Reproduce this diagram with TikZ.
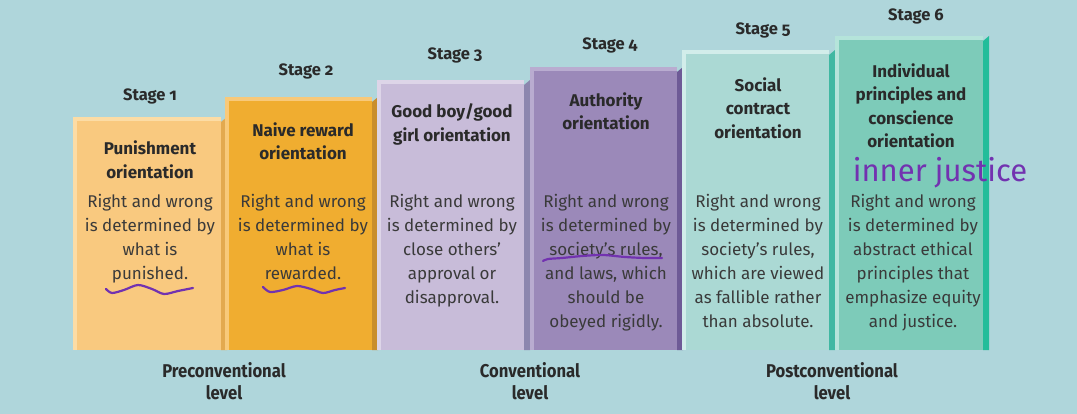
\documentclass[tikz,border=0pt]{standalone}
\usepackage{fontspec}
\setmainfont{Fira Sans}[Numbers=OldStyle]
\newfontfamily\levelfont{Fira Sans}[FakeStretch=0.9]
\definecolor{bg}{HTML}{AFD6DB}
\definecolor{fA}{HTML}{F9C97F}\definecolor{rA}{HTML}{FCDCA5}\definecolor{sA}{HTML}{E3A94F}
\definecolor{fB}{HTML}{F0AD30}\definecolor{rB}{HTML}{F8C97A}\definecolor{sB}{HTML}{C98E2E}
\definecolor{fC}{HTML}{C8BCD9}\definecolor{rC}{HTML}{DDD5E8}\definecolor{sC}{HTML}{8C86AE}
\definecolor{fD}{HTML}{9B89B9}\definecolor{rD}{HTML}{B9ACD0}\definecolor{sD}{HTML}{6E5A96}
\definecolor{fE}{HTML}{ABD9D4}\definecolor{rE}{HTML}{D2EDEA}\definecolor{sE}{HTML}{40B8A2}
\definecolor{fF}{HTML}{7DCBB9}\definecolor{rF}{HTML}{B5E4DA}\definecolor{sF}{HTML}{22BD9A}
\definecolor{txt}{HTML}{2A2A2A}
\definecolor{bodytxt}{HTML}{3A3A3A}
\definecolor{ink}{HTML}{7232B0}
\newcommand\kbox[6]{%
  \fill[#4] (#1,#2) rectangle ({#3-6},350);
  \fill[#5] ({#1+4},{#2+4}) rectangle ({#3-6},350);
  \fill[#6] ({#3-6},{#2+5}) -- (#3,#2) -- (#3,350) -- ({#3-6},350) -- cycle;
}
\tikzset{
  stagelbl/.style={font=\bfseries\fontsize{16.5}{20}\selectfont, text=txt, inner sep=0},
  title/.style={font=\bfseries\fontsize{17}{23.5}\selectfont, text=txt, align=center, inner sep=0},
  body/.style={font=\fontsize{17}{24}\selectfont, text=bodytxt, align=center, inner sep=0, anchor=north},
  levellbl/.style={font=\levelfont\bfseries\fontsize{18.5}{22}\selectfont, text=txt, align=center, inner sep=0},
  wave/.style={draw=ink, line width=2.2pt, line cap=round}
}
\begin{document}
\begin{tikzpicture}[x=1pt,y=-1pt]
\useasboundingbox (0,0) rectangle (1077,414);
\fill[bg] (0,0) rectangle (1077,414);
\kbox{73}{117}{227}{rA}{fA}{sA}
\kbox{225}{97}{378}{rB}{fB}{sB}
\kbox{377}{80}{530}{rC}{fC}{sC}
\kbox{530}{67}{683}{rD}{fD}{sD}
\kbox{682}{50}{835}{rE}{fE}{sE}
\kbox{835}{36}{989}{rF}{fF}{sF}

\node[stagelbl] (s1) at (150,96) {Stage 1};
\node[stagelbl] (s2) at (306,71) {Stage 2};
\node[stagelbl] (s3) at (455,55) {Stage 3};
\node[stagelbl] (s4) at (610,45) {Stage 4};
\node[stagelbl] (s5) at (763,30) {Stage 5};
\node[stagelbl] (s6) at (916,16) {Stage 6};

\node[title] (t1) at (150,160) {Punishment\\orientation};
\node[title] (t2) at (303,141.5) {Naive reward\\orientation};
\node[title] (t3) at (452,124.5) {Good boy/good\\girl orientation};
\node[title] (t4) at (606,111.5) {Authority\\orientation};
\node[title] (t5) at (758,108) {Social\\contract\\orientation};
\node[title] (t6) at (911,106) {Individual\\principles and\\conscience\\orientation};

\node[body] (b1) at (150,194) {Right and wrong\\is determined by\\what is\\punished.};
\node[body] (b2) at (303,194) {Right and wrong\\is determined by\\what is\\rewarded.};
\node[body] (b3) at (452,194) {Right and wrong\\is determined by\\close others’\\approval or\\disapproval.};
\node[body] (b4) at (606,194) {Right and wrong\\is determined by\\society’s rules,\\and laws, which\\should be\\obeyed rigidly.};
\node[body] (b5) at (758,194) {Right and wrong\\is determined by\\society’s rules,\\which are viewed\\as fallible rather\\than absolute.};
\node[body] (b6) at (913,194) {Right and wrong\\is determined by\\abstract ethical\\principles that\\emphasize equity\\and justice.};

\node[levellbl] (l1) at (224,381) {Preconventional\\level};
\node[levellbl] (l2) at (530,381) {Conventional\\level};
\node[levellbl] (l3) at (832,381) {Postconventional\\level};

\draw[wave] plot[smooth] coordinates {(106,289) (112,293) (124,290) (138,285) (152,289) (164,294) (178,291) (193,288)};
\draw[wave] plot[smooth] coordinates {(263,287) (270,292) (283,290) (297,286) (311,289) (323,293) (335,290) (345,288)};
\draw[wave] plot[smooth] coordinates {(543,261) (548,259) (562,258) (582,256) (603,255) (625,257) (645,258) (662,258)};
\node[text=ink, font=\fontsize{31}{31}\selectfont, inner sep=0] (ann) at (940,173) {inner justice};
\end{tikzpicture}
\end{document}
